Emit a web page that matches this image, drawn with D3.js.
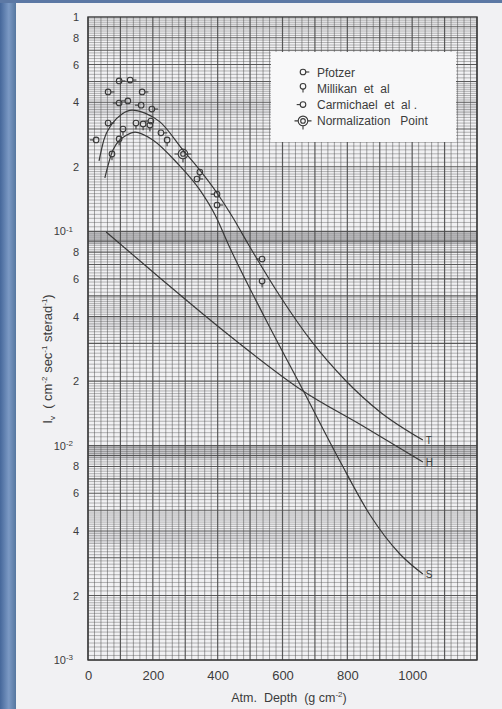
<!DOCTYPE html>
<html>
<head>
<meta charset="utf-8">
<script src="https://cdn.jsdelivr.net/npm/d3@7"></script>
<style>
html, body { margin: 0; padding: 0; background: #f1f1f3; }
svg { display: block; }
text { font-family: "Liberation Sans", Arial, sans-serif; fill: #3c3c3c; }
</style>
</head>
<body>
<svg id="chart" width="502" height="709"></svg>
<script>
// --------------------------------------------------------------------------------------
// data (depth in g cm^-2, intensity in cm^-2 sec^-1 sterad^-1)
// --------------------------------------------------------------------------------------
const depthTicks = [0, 200, 400, 600, 800, 1000];
const fluxTicks = [1, 0.8, 0.6, 0.4, 0.2, 0.1, 0.08, 0.06, 0.04, 0.02,
                   0.01, 0.008, 0.006, 0.004, 0.002, 0.001];

const pfotzerDepth = [62, 62, 96, 130, 167, 197, 225, 336, 398];
const pfotzerFlux  = [0.447, 0.320, 0.503, 0.508, 0.447, 0.372, 0.288, 0.1755, 0.1327];

const millikanDepth = [74, 96, 108, 148, 170, 191, 244, 345, 537];
const millikanFlux  = [0.2296, 0.270, 0.300, 0.320, 0.317, 0.313, 0.267, 0.189, 0.0586];

const carmichaelDepth = [25, 96, 123, 164, 194, 398, 537];
const carmichaelFlux  = [0.267, 0.397, 0.406, 0.388, 0.327, 0.149, 0.0743];

const normDepth = [293];
const normFlux  = [0.2296];

// curve T (upper fitted curve)
const tDepth = [34, 49, 74, 105, 136, 176, 222, 293, 345, 398, 444, 494, 592, 691, 793, 901, 1033];
const tFlux  = [0.213, 0.267, 0.317, 0.353, 0.368, 0.356, 0.324, 0.2395, 0.193, 0.151, 0.1179,
                0.0873, 0.0499, 0.03046, 0.02025, 0.01436, 0.01062];

// curve S (lower fitted curve)
const sDepth = [52, 77, 120, 145, 200, 275, 345, 392, 438, 546, 663, 777, 870, 962, 1033];
const sFlux  = [0.1774, 0.2395, 0.2814, 0.2906, 0.267, 0.2083, 0.156, 0.1192, 0.08361,
                0.03941, 0.01818, 0.008481, 0.004748, 0.003124, 0.002518];

// curve H
const hDepth = [56, 222, 438, 663, 848, 1033];
const hFlux  = [0.0993, 0.06058, 0.03248, 0.01799, 0.01235, 0.00839];

const legendLabels = ["Pfotzer", "Millikan  et  al", "Carmichael  et  al .", "Normalization   Point"];

// --------------------------------------------------------------------------------------
// setup
// --------------------------------------------------------------------------------------
const svg = d3.select("#chart");
const x = d3.scaleLinear().domain([0, 1200]).range([88, 477]);
const y = d3.scaleLog().domain([0.001, 1]).range([660, 17]);

// blue scan border (left + top)
const grad = svg.append("defs").append("linearGradient").attr("id", "edge")
  .attr("x1", 0).attr("x2", 1).attr("y1", 0).attr("y2", 0);
grad.append("stop").attr("offset", "0%").attr("stop-color", "#45679a");
grad.append("stop").attr("offset", "55%").attr("stop-color", "#7b99c4");
grad.append("stop").attr("offset", "100%").attr("stop-color", "#56779f");
svg.append("rect").attr("x", 0).attr("y", 0).attr("width", 16).attr("height", 709).attr("fill", "url(#edge)");
svg.append("rect").attr("x", 0).attr("y", 0).attr("width", 502).attr("height", 3).attr("fill", "#5c78a4");

// --------------------------------------------------------------------------------------
// graph paper grid
// --------------------------------------------------------------------------------------
const grid = svg.append("g");

// grey photocopy bands just under the decade lines and under the 4 lines
[[0.087, 0.1, 0.38], [0.0087, 0.01, 0.38], [0.35, 0.4, 0.16], [0.035, 0.04, 0.16], [0.0035, 0.004, 0.16]]
  .forEach(function(b) {
    grid.append("rect")
      .attr("x", x(0)).attr("width", x(1200) - x(0))
      .attr("y", y(b[1])).attr("height", y(b[0]) - y(b[1]))
      .attr("fill", "#8a8a8e").attr("fill-opacity", b[2]);
  });

// vertical lines every 20, heavier every 100
d3.range(0, 1201, 20).forEach(function(d) {
  grid.append("line")
    .attr("x1", x(d)).attr("x2", x(d))
    .attr("y1", y(1)).attr("y2", y(0.001))
    .attr("stroke", "#4a4a4a")
    .attr("stroke-width", d % 100 === 0 ? 1.2 : 0.7)
    .attr("stroke-opacity", d % 100 === 0 ? 0.9 : 0.7);
});

// horizontal log lines
[0.001, 0.01, 0.1].forEach(function(dec) {
  var vals = [];
  d3.range(1, 2, 0.05).forEach(function(m) { vals.push(m); });
  d3.range(2, 5, 0.1).forEach(function(m) { vals.push(m); });
  d3.range(5, 10, 0.2).forEach(function(m) { vals.push(m); });
  vals.forEach(function(m) {
    var major = Math.abs(m - Math.round(m)) < 1e-6;
    grid.append("line")
      .attr("x1", x(0)).attr("x2", x(1200))
      .attr("y1", y(m * dec)).attr("y2", y(m * dec))
      .attr("stroke", "#4a4a4a")
      .attr("stroke-width", major ? 1.1 : 0.6)
      .attr("stroke-opacity", major ? 0.9 : 0.65);
  });
});

// frame
svg.append("rect")
  .attr("x", x(0)).attr("y", y(1))
  .attr("width", x(1200) - x(0)).attr("height", y(0.001) - y(1))
  .attr("fill", "none").attr("stroke", "#3a3a3a").attr("stroke-width", 1.4);

// legend box (covers the grid)
svg.append("rect")
  .attr("x", 271).attr("y", 52).attr("width", 185).attr("height", 90)
  .attr("fill", "#f8f8f9");

// --------------------------------------------------------------------------------------
// axes
// --------------------------------------------------------------------------------------
const xAxis = svg.append("g")
  .attr("transform", "translate(0," + y(0.001) + ")")
  .call(d3.axisBottom(x).tickValues(depthTicks).tickSize(0).tickPadding(11)
        .tickFormat(d3.format("d")));
xAxis.select(".domain").remove();
xAxis.selectAll("text").attr("font-size", 13).attr("fill", "#3c3c3c")
  .style("font-family", "Liberation Sans, Arial, sans-serif");

const yAxis = svg.append("g")
  .attr("transform", "translate(" + x(0) + ",0)")
  .call(d3.axisLeft(y).tickValues(fluxTicks).tickSize(0).tickPadding(9)
        .tickFormat(function(d) {
          var e = Math.log10(d);
          if (d === 1) return "1";
          if (Math.abs(e - Math.round(e)) < 1e-9) return "10";
          return String(Math.round(d / Math.pow(10, Math.floor(e + 1e-9))));
        }));
yAxis.select(".domain").remove();
yAxis.selectAll("text").attr("font-size", 11).attr("fill", "#3c3c3c")
  .style("font-family", "Liberation Sans, Arial, sans-serif")
  .each(function(d) {
    var e = Math.log10(d);
    if (d !== 1 && Math.abs(e - Math.round(e)) < 1e-9) {
      d3.select(this).attr("dx", -6).append("tspan")
        .attr("dy", "-0.45em").attr("font-size", 8).text("-" + Math.round(-e));
    }
  });

// axis titles
const xt = svg.append("text").attr("x", 289).attr("y", 702)
  .attr("text-anchor", "middle").attr("font-size", 12.5)
  .attr("xml:space", "preserve").style("white-space", "pre");
xt.append("tspan").text("Atm.  Depth  (g cm");
xt.append("tspan").attr("dy", -5).attr("font-size", 8).text("-2");
xt.append("tspan").attr("dy", 5).text(")");

const yt = svg.append("text").attr("transform", "translate(52,359) rotate(-90)")
  .attr("text-anchor", "middle").attr("font-size", 13)
  .attr("xml:space", "preserve").style("white-space", "pre");
yt.append("tspan").text("I");
yt.append("tspan").attr("dy", 3).attr("font-size", 8).text("v");
yt.append("tspan").attr("dy", -3).text("  ( cm");
yt.append("tspan").attr("dy", -5).attr("font-size", 8).text("-2");
yt.append("tspan").attr("dy", 5).text(" sec");
yt.append("tspan").attr("dy", -5).attr("font-size", 8).text("-1");
yt.append("tspan").attr("dy", 5).text(" sterad");
yt.append("tspan").attr("dy", -5).attr("font-size", 8).text("-1");
yt.append("tspan").attr("dy", 5).text(")");

// --------------------------------------------------------------------------------------
// curves
// --------------------------------------------------------------------------------------
const line = d3.line()
  .x(function(d) { return x(d[0]); })
  .y(function(d) { return y(d[1]); })
  .curve(d3.curveMonotoneX);

[[tDepth, tFlux, "T"], [sDepth, sFlux, "S"], [hDepth, hFlux, "H"]].forEach(function(c) {
  var pts = d3.zip(c[0], c[1]);
  svg.append("path").datum(pts).attr("d", line)
    .attr("fill", "none").attr("stroke", "#383838").attr("stroke-width", 1.2);
  var last = pts[pts.length - 1];
  svg.append("text").attr("x", x(last[0]) + 3).attr("y", y(last[1]) + 4)
    .attr("font-size", 10).text(c[2]);
});

// --------------------------------------------------------------------------------------
// symbols
// --------------------------------------------------------------------------------------
function marker(g, cx, cy, kind) {
  var r = 2.8, col = "#383838";
  if (kind === "norm") {
    g.append("circle").attr("cx", cx).attr("cy", cy).attr("r", 4.8)
      .attr("fill", "none").attr("stroke", col).attr("stroke-width", 1.1);
    g.append("circle").attr("cx", cx).attr("cy", cy).attr("r", 2.3)
      .attr("fill", "none").attr("stroke", col).attr("stroke-width", 1.1);
    g.append("path").attr("d", "M" + (cx - 8.5) + "," + cy + "H" + (cx - 4.8) +
                                "M" + (cx + 4.8) + "," + cy + "H" + (cx + 8.5) +
                                "M" + cx + "," + (cy + 4.8) + "V" + (cy + 8.5))
      .attr("stroke", col).attr("stroke-width", 1.1);
    return;
  }
  g.append("circle").attr("cx", cx).attr("cy", cy).attr("r", r)
    .attr("fill", "none").attr("stroke", col).attr("stroke-width", 1.1);
  var d;
  if (kind === "pfotzer") d = "M" + (cx + r) + "," + cy + "H" + (cx + r + 3.5);
  if (kind === "millikan") d = "M" + cx + "," + (cy + r) + "V" + (cy + r + 3.5);
  if (kind === "carmichael") d = "M" + (cx - r) + "," + cy + "H" + (cx - r - 3.5);
  g.append("path").attr("d", d).attr("stroke", col).attr("stroke-width", 1.1);
}

const pts = svg.append("g");
d3.zip(pfotzerDepth, pfotzerFlux).forEach(function(p) { marker(pts, x(p[0]), y(p[1]), "pfotzer"); });
d3.zip(millikanDepth, millikanFlux).forEach(function(p) { marker(pts, x(p[0]), y(p[1]), "millikan"); });
d3.zip(carmichaelDepth, carmichaelFlux).forEach(function(p) { marker(pts, x(p[0]), y(p[1]), "carmichael"); });
d3.zip(normDepth, normFlux).forEach(function(p) { marker(pts, x(p[0]), y(p[1]), "norm"); });

// legend
const kinds = ["pfotzer", "millikan", "carmichael", "norm"];
const lg = svg.append("g");
legendLabels.forEach(function(lab, i) {
  var ly = 72 + i * 16.3;
  marker(lg, 303, ly - (i === 1 ? 2 : 0), kinds[i]);
  lg.append("text").attr("x", 317).attr("y", ly + 4.5).attr("font-size", 12)
    .attr("xml:space", "preserve").style("white-space", "pre").text(lab);
});
</script>
</body>
</html>
